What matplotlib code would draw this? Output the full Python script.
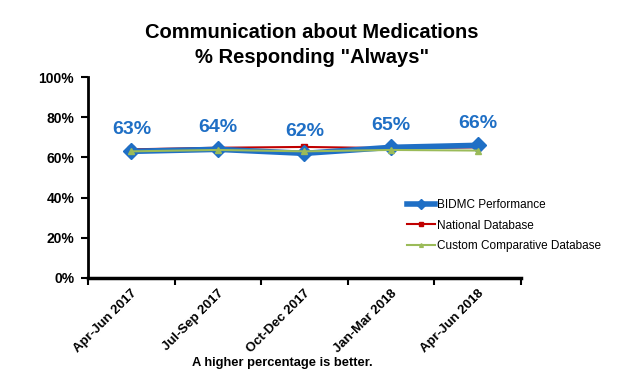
import matplotlib.pyplot as plt

plt.rcParams['font.family'] = ['Liberation Sans', 'DejaVu Sans']
plt.rcParams['font.weight'] = 'bold'

# Chart data
quarters = ['Apr-Jun 2017', 'Jul-Sep 2017', 'Oct-Dec 2017', 'Jan-Mar 2018', 'Apr-Jun 2018']
bidmc = [63, 64, 62, 65, 66]
national = [64, 64.8, 65.2, 64.6, 65]
custom = [63, 63.7, 63, 63.7, 63.4]

fig = plt.figure(figsize=(6.2, 3.74), dpi=100)
ax = fig.add_axes([0.142, 0.257, 0.698, 0.537])

x = list(range(len(quarters)))
ax.plot(x, bidmc, color='#1F6FC5', lw=4, marker='D', ms=8, label='BIDMC Performance', zorder=3)
ax.plot(x, national, color='#C00000', lw=1.5, marker='s', ms=4.5, label='National Database', zorder=2)
ax.plot(x, custom, color='#9BBB59', lw=1.5, marker='^', ms=4.5, label='Custom Comparative Database', zorder=4)

for xi, v in zip(x, bidmc):
    ax.annotate(f'{v:.0f}%', (xi, v), xytext=(0, 9.5), textcoords='offset points',
                ha='center', va='bottom', color='#1F6FC5', fontsize=14, fontweight='bold')

ax.set_xlim(-0.5, len(quarters) - 0.5)
ax.set_ylim(0, 100)
ax.set_yticks(range(0, 101, 20))
ax.set_yticklabels([f'{t}%' for t in range(0, 101, 20)], fontsize=10, fontweight='bold')
ax.set_xticks([i - 0.5 for i in range(len(quarters) + 1)], minor=False)
ax.set_xticklabels([''] * (len(quarters) + 1))
ax.set_xticks(x, minor=True)
ax.set_xticklabels(quarters, minor=True, rotation=45, ha='right', rotation_mode='anchor',
                   fontsize=9.5, fontweight='bold')
ax.tick_params(axis='x', which='minor', length=0, pad=7)
ax.tick_params(axis='both', which='major', direction='out', length=5, width=1.5, pad=5)
ax.spines['top'].set_visible(False)
ax.spines['right'].set_visible(False)
ax.spines['left'].set_linewidth(2)
ax.spines['bottom'].set_linewidth(2.5)

fig.text(0.503, 0.912, 'Communication about Medications', ha='center', va='center',
         fontsize=14.5, fontweight='bold')
fig.text(0.503, 0.847, '% Responding "Always"', ha='center', va='center',
         fontsize=14.5, fontweight='bold')
fig.text(0.455, 0.03, 'A higher percentage is better.', ha='center', va='center',
         fontsize=9.3, fontweight='bold')

leg = fig.legend(loc='upper left', bbox_to_anchor=(0.639, 0.496), frameon=False,
                 fontsize=8.5, handlelength=2.4, labelspacing=0.72, handletextpad=0.2,
                 markerscale=0.6)
for t in leg.get_texts():
    t.set_fontweight('normal')

fig.savefig('out.png', dpi=100)
